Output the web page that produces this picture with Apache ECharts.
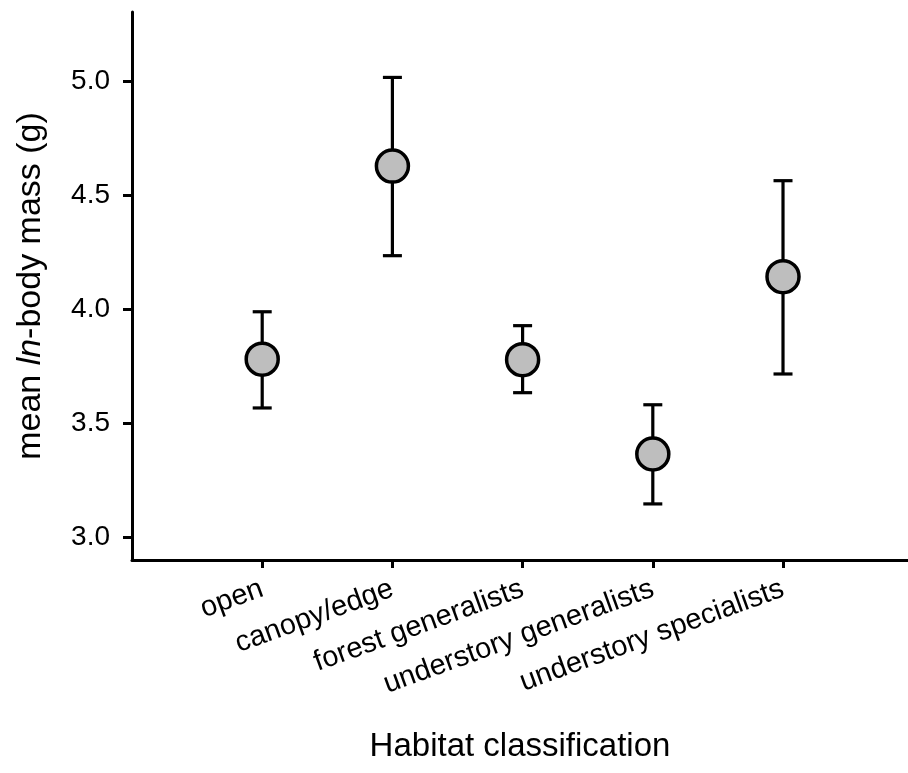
<!DOCTYPE html>
<html>
<head>
<meta charset="utf-8">
<script src="https://cdn.jsdelivr.net/npm/echarts@6/dist/echarts.min.js"></script>
<style>html,body{margin:0;padding:0;background:#fff}#c{width:908px;height:773px}</style>
</head>
<body>
<div id="c"></div>
<script>
var categories = ['open', 'canopy/edge', 'forest generalists', 'understory generalists', 'understory specialists'];
var means = [3.78, 4.627, 3.778, 3.364, 4.142];
var lower = [3.566, 4.234, 3.633, 3.145, 3.715];
var upper = [3.988, 5.016, 3.927, 3.58, 4.563];
var yTicks = [3.0, 3.5, 4.0, 4.5, 5.0];
var xTicks = [1, 2, 3, 4, 5];

var FONT = 'Liberation Sans';
var chart = echarts.init(document.getElementById('c'), null, {renderer: 'canvas'});

var errData = categories.map(function (c, i) { return [i + 1, lower[i], upper[i]]; });
var ptData = categories.map(function (c, i) { return [i + 1, means[i]]; });

chart.setOption({
  animation: false,
  backgroundColor: '#fff',
  grid: {left: 132, top: 12, right: 0, bottom: 213, containLabel: false},
  xAxis: {
    type: 'value', min: 0, max: 5.96,
    axisLine: {show: true, onZero: false, lineStyle: {color: '#000', width: 3}},
    axisTick: {show: true, customValues: xTicks, length: 8, lineStyle: {color: '#000', width: 3}},
    axisLabel: {
      customValues: xTicks, rotate: 20, margin: 28, fontSize: 29, color: '#000', fontFamily: FONT,
      formatter: function (v) { return categories[Math.round(v) - 1] || ''; }
    },
    splitLine: {show: false},
    name: 'Habitat classification', nameLocation: 'middle', nameGap: 170,
    nameTextStyle: {fontSize: 33, color: '#000', fontFamily: FONT}
  },
  yAxis: {
    type: 'value', min: 2.899, max: 5.303,
    axisLine: {show: true, lineStyle: {color: '#000', width: 3}},
    axisTick: {show: true, customValues: yTicks, length: 9, lineStyle: {color: '#000', width: 3}},
    axisLabel: {
      customValues: yTicks, margin: 22, fontSize: 28, color: '#000', fontFamily: FONT,
      formatter: function (v) { return v.toFixed(1); }
    },
    splitLine: {show: false},
    name: '{n|mean }{i|ln}{n|-body mass (g)}', nameLocation: 'middle', nameGap: 84,
    nameTextStyle: {
      fontSize: 34, color: '#000', fontFamily: FONT,
      rich: {
        n: {fontSize: 34, color: '#000', fontFamily: FONT},
        i: {fontSize: 34, color: '#000', fontFamily: FONT, fontStyle: 'italic'}
      }
    }
  },
  series: [
    {
      type: 'custom',
      data: errData,
      z: 2,
      renderItem: function (params, api) {
        var x = api.value(0);
        var lo = api.coord([x, api.value(1)]);
        var hi = api.coord([x, api.value(2)]);
        var hw = 9.5;
        var st = {stroke: '#000', lineWidth: 3.2, fill: null};
        return {
          type: 'group',
          children: [
            {type: 'line', shape: {x1: lo[0], y1: lo[1], x2: hi[0], y2: hi[1]}, style: st},
            {type: 'line', shape: {x1: hi[0] - hw, y1: hi[1], x2: hi[0] + hw, y2: hi[1]}, style: st},
            {type: 'line', shape: {x1: lo[0] - hw, y1: lo[1], x2: lo[0] + hw, y2: lo[1]}, style: st}
          ]
        };
      }
    },
    {
      type: 'scatter',
      data: ptData,
      z: 3,
      symbol: 'circle',
      symbolSize: 32,
      itemStyle: {color: '#BEBEBE', borderColor: '#000', borderWidth: 3.5, opacity: 1}
    }
  ]
});
</script>
</body>
</html>
